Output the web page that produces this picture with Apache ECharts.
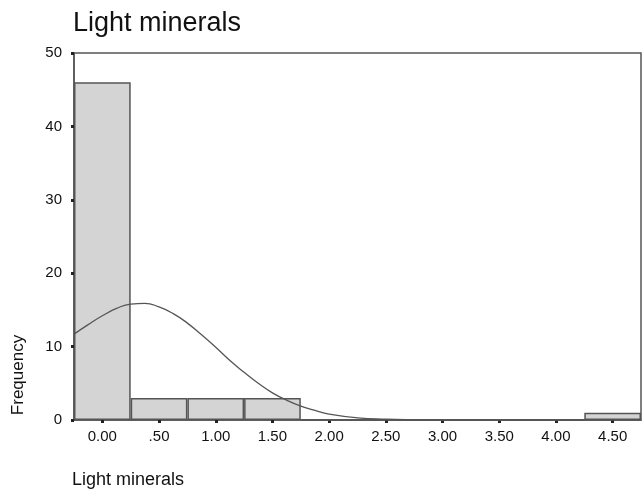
<!DOCTYPE html>
<html>
<head>
<meta charset="utf-8">
<script src="https://cdn.jsdelivr.net/npm/echarts@6/dist/echarts.min.js"></script>
<style>
  html, body { margin: 0; padding: 0; background: #fff; }
  #chart { width: 644px; height: 496px; }
</style>
</head>
<body>
<div id="chart"></div>
<script>
// Histogram bins (width 0.5), labels as printed under the axis
const binCenters = [0, 0.5, 1.0, 1.5, 2.0, 2.5, 3.0, 3.5, 4.0, 4.5];
const binLabels = ["0.00", ".50", "1.00", "1.50", "2.00", "2.50", "3.00", "3.50", "4.00", "4.50"];
const binCounts = [46, 3, 3, 3, 0, 0, 0, 0, 0, 1];

// Normal curve
const curveX = [-0.25, -0.125, 0, 0.125, 0.25, 0.375, 0.5, 0.625, 0.75, 0.875, 1.0, 1.125, 1.25,
  1.375, 1.5, 1.625, 1.75, 1.875, 2.0, 2.25, 2.5, 2.75, 3.0, 3.5, 4.0, 4.5, 4.75];
const curveY = [11.7, 13.0, 14.2, 15.2, 15.8, 15.9, 15.4, 14.5, 13.2, 11.6, 9.9, 8.1, 6.5,
  5.0, 3.7, 2.7, 1.9, 1.3, 0.8, 0.3, 0.1, 0.03, 0.01, 0, 0, 0, 0];

const yTicks = { min: 0, max: 50, interval: 10 };

(function () {
  const el = document.getElementById("chart");
  const chart = echarts.init(el, null, { renderer: "canvas" });
  const font = "'Liberation Sans', Arial, sans-serif";
  const dark = "#555";

  chart.setOption({
    backgroundColor: "#fff",
    animation: false,
    title: {
      text: "Light minerals",
      left: 68,
      top: 5,
      textStyle: { fontFamily: font, fontSize: 27, fontWeight: "normal", color: "#111" },
    },
    grid: {
      left: 74, right: 3, top: 53, bottom: 76,
      show: true, borderColor: dark, borderWidth: 1.5, backgroundColor: "transparent",
    },
    xAxis: [
      {
        type: "category",
        data: binLabels,
        boundaryGap: true,
        axisLine: { onZero: false, lineStyle: { color: dark, width: 1.5 } },
        axisTick: { show: false },
        axisLabel: { fontFamily: font, fontSize: 15, color: "#111", margin: 9, interval: 0 },
        splitLine: { show: false },
      },
      {
        // numeric twin of the bin axis: carries the curve and the tick marks
        type: "value",
        min: -0.25,
        max: 4.75,
        position: "bottom",
        axisLine: { show: false, onZero: false },
        axisTick: { show: true, customValues: binCenters, length: 3, lineStyle: { color: "#222", width: 3 } },
        axisLabel: { show: false },
        splitLine: { show: false },
      },
    ],
    yAxis: {
      type: "value",
      min: yTicks.min,
      max: yTicks.max,
      interval: yTicks.interval,
      axisLine: { show: true, onZero: false, lineStyle: { color: dark, width: 1.5 } },
      axisTick: { show: true, length: 3, lineStyle: { color: "#222", width: 3 } },
      axisLabel: { fontFamily: font, fontSize: 15, color: "#111", margin: 12 },
      splitLine: { show: false },
    },
    graphic: [
      {
        type: "text",
        left: 72,
        top: 471,
        style: { text: "Light minerals", font: "18px " + font, fill: "#111" },
      },
      {
        type: "text",
        x: 18,
        y: 375,
        rotation: Math.PI / 2,
        style: {
          text: "Frequency",
          font: "17px " + font,
          fill: "#111",
          align: "center",
          verticalAlign: "middle",
        },
      },
    ],
    series: [
      {
        type: "bar",
        xAxisIndex: 0,
        data: binCounts,
        barWidth: "100%",
        barCategoryGap: 0,
        itemStyle: { color: "#d4d4d4", borderColor: dark, borderWidth: 1.5 },
        z: 2,
      },
      {
        type: "line",
        xAxisIndex: 1,
        data: curveX.map((x, i) => [x, curveY[i]]),
        smooth: 0.5,
        symbol: "none",
        lineStyle: { color: dark, width: 1.3 },
        z: 3,
      },
    ],
  });

  window.addEventListener("resize", () => chart.resize());
})();
</script>
</body>
</html>
